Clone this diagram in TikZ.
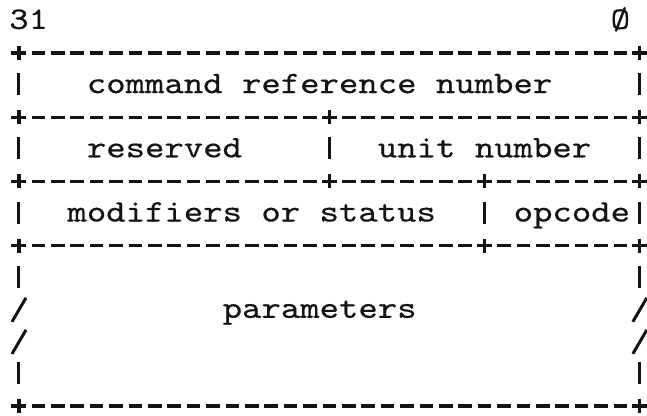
\documentclass[tikz,border=0pt]{standalone}
\usepackage{fontspec}
\newfontfamily\tw{lmmono10-regular.otf}[FakeStretch=1.18,FakeBold=0.5]
\begin{document}
\begin{tikzpicture}[x=19.4pt,y=-32.1pt,
  ink/.style={line width=3.3pt,black!92},
  bar/.style={line width=3.0pt,black!92},
  lbl/.style={anchor=base west,inner sep=0pt,outer sep=0pt,yshift=-8pt,
    font=\tw\fontsize{31.3}{31.3}\selectfont,text=black!92}]
\useasboundingbox (-0.979,-0.651) rectangle (32.371,12.308);
% helpers
\def\pls(#1,#2){\draw[ink] (#1,#2) ++(-7.5pt,0pt) -- ++(15pt,0pt);
  \draw[ink] (#1,#2) ++(0pt,-7pt) -- ++(0pt,14pt);}
\def\dsh(#1,#2){\draw[ink] (#1,#2) ++(-6.8pt,0pt) -- ++(13.6pt,0pt);}
\def\vbar(#1,#2){\draw[bar] (#1,#2) ++(0pt,12pt) -- ++(0pt,-22pt);}
\def\slsh(#1,#2){\draw[bar] (#1,#2) ++(-7pt,-12pt) -- ++(14pt,24pt);}
% row 0 : bit numbers
\node[lbl] (b31) at (-0.5,0) {31};
\node[lbl] (b0) at (30.5,0) {Ø};
% row 1
\foreach \c in {1,...,31}{\dsh(\c,1)}
\foreach \c in {0,32}{\pls(\c,1)}
% row 2
\foreach \c in {0,32}{\vbar(\c,2)}
\node[lbl] (crn) at (3.5,2) {command reference number};
% row 3
\foreach \c in {1,...,15,17,18,...,31}{\dsh(\c,3)}
\foreach \c in {0,16,32}{\pls(\c,3)}
% row 4
\foreach \c in {0,16,32}{\vbar(\c,4)}
\node[lbl] (res) at (3.5,4) {reserved};
\node[lbl] (unit) at (18.5,4) {unit number};
% row 5
\foreach \c in {1,...,15,17,18,...,23,25,26,...,31}{\dsh(\c,5)}
\foreach \c in {0,16,24,32}{\pls(\c,5)}
% row 6
\foreach \c in {0,24,32}{\vbar(\c,6)}
\node[lbl] (mod) at (2.5,6) {modifiers or status};
\node[lbl] (op) at (25.5,6) {opcode};
% row 7
\foreach \c in {1,...,23,25,26,...,31}{\dsh(\c,7)}
\foreach \c in {0,24,32}{\pls(\c,7)}
% rows 8-11
\foreach \c in {0,32}{\vbar(\c,8)}
\foreach \c in {0,32}{\slsh(\c,9)}
\node[lbl] (par) at (10.5,9) {parameters};
\foreach \c in {0,32}{\slsh(\c,10)}
\foreach \c in {0,32}{\vbar(\c,11)}
% row 12
\foreach \c in {1,...,31}{\dsh(\c,12)}
\foreach \c in {0,32}{\pls(\c,12)}
\end{tikzpicture}
\end{document}
